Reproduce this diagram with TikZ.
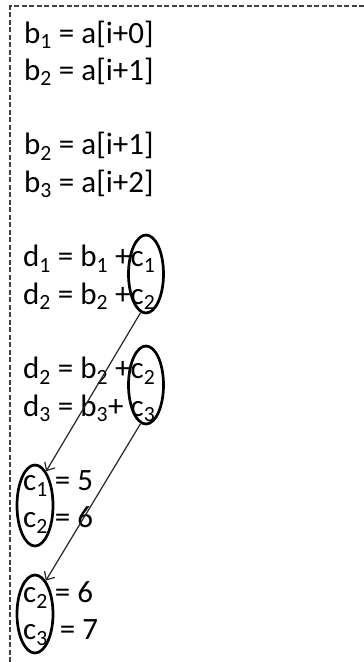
\documentclass[tikz,border=0pt]{standalone}
\usepackage{fontspec}
\setmainfont{Carlito}
\usetikzlibrary{shapes.geometric,arrows.meta}
\begin{document}
\begin{tikzpicture}[x=1pt,y=-1pt,
  txt/.style={anchor=base west,inner sep=0pt,font=\fontsize{31}{37}\selectfont},
  ring/.style={draw=black,line width=2.7pt,ellipse,inner sep=0pt,minimum width=35pt,minimum height=78pt},
  link/.style={draw=black!85,line width=1.2pt,-{Straight Barb[length=6.5pt,width=12pt]}},
  frame/.style={draw=black!75,line width=1.6pt,dash pattern=on 5pt off 2.5pt}]
\useasboundingbox (0,0) rectangle (364,662);
\draw[frame] (364,6) -- (10,6) -- (10,662);
\node[txt] (l1) at (24,43) {b\textsubscript{1} = a[i+0]};
\node[txt] (l2) at (24,80.3) {b\textsubscript{2} = a[i+1]};
\node[txt] (l4) at (24,154.9) {b\textsubscript{2} = a[i+1]};
\node[txt] (l5) at (24,192.2) {b\textsubscript{3} = a[i+2]};
\node[txt] (l7) at (23,266.8) {d\textsubscript{1} = b\textsubscript{1} +c\textsubscript{1}};
\node[txt] (l8) at (23,304.1) {d\textsubscript{2} = b\textsubscript{2} +c\textsubscript{2}};
\node[txt] (l10) at (23,378.7) {d\textsubscript{2} = b\textsubscript{2} +c\textsubscript{2}};
\node[txt] (l11) at (23,416) {d\textsubscript{3} = b\textsubscript{3}+ c\textsubscript{3}};
\node[txt] (l13) at (23,490.6) {c\textsubscript{1} = 5};
\node[txt] (l14) at (23,527.9) {c\textsubscript{2} = 6};
\node[txt] (l16) at (23,602.5) {c\textsubscript{2} = 6};
\node[txt] (l17) at (23,639.8) {c\textsubscript{3}\, = 7};
\node[ring] (e1) at (146,274) {};
\node[ring] (e2) at (146,385) {};
\node[ring,minimum width=36pt,minimum height=81pt] (e3) at (35,505.5) {};
\node[ring,minimum width=36pt] (e4) at (35,614) {};
\draw[link] (e1.262) -- (e3.72);
\draw[link] (e2.262) -- (e4.72);
\end{tikzpicture}
\end{document}
